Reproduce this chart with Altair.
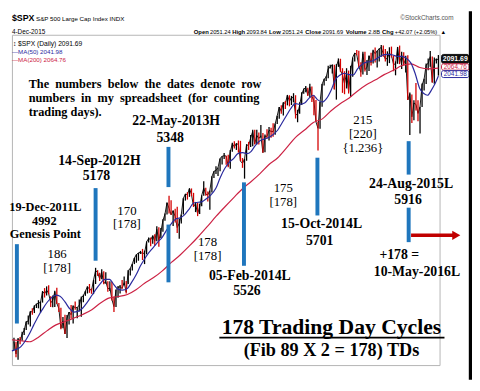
import altair as alt
import pandas as pd

SERIF = "Liberation Serif, Times New Roman, serif"
SANS = "Liberation Sans Narrow, Arial Narrow, Liberation Sans, Arial, sans-serif"

# ---------------- weekly S&P 500 prices (Fridays) ----------------
close_2011 = [1255, 1219, 1265, 1258]
low_2011 = [1231, 1209, 1202, 1248]
high_2011 = [1267, 1255, 1265, 1269]

close_2012 = [1278, 1289, 1315, 1316, 1345, 1343, 1361, 1366, 1370, 1371, 1404, 1397, 1408,
              1398, 1370, 1378, 1403, 1369, 1353, 1295, 1317, 1278, 1325, 1343, 1335, 1362,
              1355, 1357, 1363, 1386, 1391, 1405, 1418, 1411, 1407, 1438, 1466, 1460, 1441,
              1461, 1428, 1433, 1412, 1414, 1380, 1359, 1409, 1416, 1418, 1413, 1430, 1402]
low_2012 = [1258, 1275, 1290, 1306, 1300, 1335, 1340, 1355, 1354, 1341, 1371, 1386, 1392,
            1396, 1358, 1357, 1358, 1367, 1343, 1292, 1295, 1278, 1266, 1306, 1324, 1309,
            1350, 1325, 1345, 1329, 1372, 1391, 1398, 1400, 1397, 1396, 1426, 1450, 1435,
            1440, 1425, 1427, 1403, 1405, 1377, 1343, 1358, 1385, 1398, 1412, 1422, 1398]
high_2012 = [1285, 1296, 1315, 1333, 1345, 1354, 1363, 1368, 1378, 1374, 1405, 1414, 1419,
             1422, 1390, 1392, 1406, 1415, 1370, 1356, 1328, 1335, 1334, 1343, 1364, 1362,
             1374, 1357, 1380, 1389, 1394, 1405, 1419, 1426, 1413, 1438, 1474, 1467, 1459,
             1470, 1464, 1461, 1434, 1434, 1433, 1389, 1409, 1420, 1423, 1438, 1448, 1435]

close_2013 = [1466, 1472, 1486, 1503, 1513, 1518, 1520, 1516, 1518, 1551, 1561, 1557, 1569,
              1553, 1588, 1555, 1582, 1614, 1633, 1667, 1650, 1631, 1643, 1626, 1593, 1606,
              1632, 1680, 1692, 1691, 1709, 1691, 1655, 1664, 1633, 1655, 1688, 1710, 1692,
              1690, 1703, 1744, 1760, 1762, 1771, 1798, 1804, 1806, 1805, 1775, 1818, 1841]
low_2013 = [1426, 1451, 1466, 1485, 1489, 1495, 1515, 1497, 1485, 1514, 1549, 1538, 1545,
            1539, 1553, 1536, 1562, 1581, 1613, 1632, 1635, 1631, 1598, 1608, 1577, 1560,
            1605, 1632, 1673, 1676, 1684, 1686, 1654, 1639, 1627, 1633, 1656, 1687, 1687,
            1670, 1646, 1697, 1740, 1752, 1746, 1760, 1780, 1796, 1779, 1772, 1767, 1818]
high_2013 = [1467, 1473, 1486, 1503, 1514, 1518, 1524, 1530, 1525, 1552, 1564, 1564, 1570,
             1573, 1597, 1594, 1592, 1618, 1635, 1667, 1687, 1674, 1644, 1649, 1655, 1620,
             1632, 1680, 1693, 1698, 1709, 1709, 1696, 1669, 1666, 1664, 1689, 1730, 1711,
             1700, 1703, 1745, 1760, 1775, 1771, 1798, 1804, 1814, 1806, 1809, 1823, 1844]

close_2014 = [1832, 1842, 1839, 1790, 1783, 1797, 1838, 1836, 1859, 1878, 1841, 1866, 1857,
              1865, 1815, 1864, 1863, 1881, 1878, 1877, 1900, 1924, 1950, 1937, 1963, 1961,
              1985, 1967, 1978, 1978, 1925, 1931, 1955, 1988, 2003, 2008, 1985, 2010, 1982,
              1968, 1906, 1887, 1965, 2018, 2032, 2039, 2064, 2068, 2075, 2003, 2071, 2089]
low_2014 = [1827, 1823, 1815, 1790, 1770, 1738, 1791, 1823, 1832, 1834, 1839, 1839, 1839,
            1859, 1815, 1816, 1857, 1851, 1859, 1862, 1868, 1900, 1915, 1930, 1925, 1944,
            1955, 1952, 1956, 1965, 1916, 1905, 1930, 1956, 1989, 1994, 1983, 1978, 1965,
            1926, 1906, 1821, 1886, 1951, 2014, 2027, 2035, 2064, 2049, 2002, 1972, 2069]
high_2014 = [1849, 1843, 1851, 1850, 1799, 1797, 1840, 1847, 1867, 1883, 1883, 1883, 1875,
             1897, 1873, 1869, 1884, 1891, 1889, 1902, 1901, 1924, 1950, 1955, 1964, 1968,
             1986, 1985, 1983, 1991, 1985, 1942, 1964, 1994, 2005, 2012, 2007, 2019, 2011,
             1985, 1971, 1906, 1965, 2018, 2034, 2041, 2072, 2075, 2076, 2075, 2077, 2094]

close_2015 = [2058, 2045, 2019, 2051, 1995, 2055, 2097, 2110, 2105, 2071, 2053, 2108, 2061,
              2067, 2102, 2081, 2117, 2108, 2116, 2123, 2126, 2107, 2092, 2094, 2110, 2102,
              2077, 2077, 2127, 2080, 2104, 2078, 2092, 1971, 1989, 1921, 1962, 1958, 1931,
              1951, 2015, 2033, 2075, 2079, 2099, 2023, 2089, 2090, 2092]
low_2015 = [2054, 1992, 1988, 2005, 1990, 1980, 2040, 2085, 2103, 2067, 2040, 2046, 2055,
            2045, 2057, 2073, 2079, 2082, 2067, 2085, 2099, 2099, 2085, 2072, 2080, 2097,
            2056, 2044, 2078, 2077, 2063, 2073, 2052, 1971, 1867, 1903, 1911, 1940, 1908,
            1872, 1950, 1999, 2018, 2059, 2069, 2023, 2019, 2079, 2043]
high_2015 = [2093, 2065, 2056, 2065, 2058, 2072, 2097, 2110, 2119, 2117, 2083, 2114, 2114,
             2089, 2102, 2111, 2120, 2126, 2117, 2123, 2134, 2132, 2122, 2115, 2127, 2129,
             2102, 2085, 2128, 2132, 2114, 2112, 2102, 2103, 1993, 1987, 1970, 2021, 1970,
             1951, 2020, 2034, 2079, 2094, 2116, 2100, 2097, 2094, 2104]

closes = close_2011 + close_2012 + close_2013 + close_2014 + close_2015
lows = low_2011 + low_2012 + low_2013 + low_2014 + low_2015
highs = high_2011 + high_2012 + high_2013 + high_2014 + high_2015
week_dates = pd.date_range("2011-12-09", "2015-12-04", freq="W-FRI")
assert len(closes) == len(lows) == len(highs) == len(week_dates)

# ---------------- moving averages ----------------
ma200_dates = ["2011-12-02", "2012-01-02", "2012-02-01", "2012-03-01", "2012-04-01", "2012-05-01",
               "2012-06-01", "2012-07-01", "2012-08-01", "2012-09-01", "2012-10-01", "2012-11-01",
               "2012-12-01", "2013-01-01", "2013-02-01", "2013-03-01", "2013-04-01", "2013-05-01",
               "2013-06-01", "2013-07-01", "2013-08-01", "2013-09-01", "2013-10-01", "2013-11-01",
               "2013-12-01", "2014-01-01", "2014-02-01", "2014-03-01", "2014-04-01", "2014-05-01",
               "2014-06-01", "2014-07-01", "2014-08-01", "2014-09-01", "2014-10-01", "2014-11-01",
               "2014-12-01", "2015-01-01", "2015-02-01", "2015-03-01", "2015-04-01", "2015-05-01",
               "2015-06-01", "2015-07-01", "2015-08-01", "2015-09-01", "2015-10-01", "2015-11-01",
               "2015-12-04"]
ma200_vals = [1261, 1258, 1255, 1268, 1288, 1305, 1315, 1325, 1336, 1350, 1370, 1385,
              1389, 1395, 1410, 1428, 1445, 1465, 1490, 1512, 1538, 1566, 1595, 1626,
              1654, 1682, 1709, 1729, 1753, 1779, 1800, 1829, 1860, 1882, 1904, 1915,
              1939, 1960, 1977, 1997, 2016, 2030, 2046, 2058, 2073, 2078, 2067, 2063,
              2065]

ma50_dates = ["2011-12-02", "2011-12-15", "2012-01-01", "2012-01-15", "2012-02-01", "2012-02-15",
              "2012-03-01", "2012-03-15", "2012-04-01", "2012-04-15", "2012-05-01", "2012-05-15",
              "2012-06-01", "2012-06-15", "2012-07-01", "2012-07-15", "2012-08-01", "2012-08-15",
              "2012-09-01", "2012-09-15", "2012-10-01", "2012-10-15", "2012-11-01", "2012-11-15",
              "2012-12-01", "2012-12-15", "2013-01-01", "2013-01-15", "2013-02-01", "2013-02-15",
              "2013-03-01", "2013-03-15", "2013-04-01", "2013-04-15", "2013-05-01", "2013-05-15",
              "2013-06-01", "2013-06-15", "2013-07-01", "2013-07-15", "2013-08-01", "2013-08-15",
              "2013-09-01", "2013-09-15", "2013-10-01", "2013-10-15", "2013-11-01", "2013-11-15",
              "2013-12-01", "2013-12-15", "2014-01-01", "2014-01-15", "2014-02-01", "2014-02-15",
              "2014-03-01", "2014-03-15", "2014-04-01", "2014-04-15", "2014-05-01", "2014-05-15",
              "2014-06-01", "2014-06-15", "2014-07-01", "2014-07-15", "2014-08-01", "2014-08-15",
              "2014-09-01", "2014-09-15", "2014-10-01", "2014-10-15", "2014-11-01", "2014-11-15",
              "2014-12-01", "2014-12-15", "2015-01-01", "2015-01-15", "2015-02-01", "2015-02-15",
              "2015-03-01", "2015-03-15", "2015-04-01", "2015-04-15", "2015-05-01", "2015-05-15",
              "2015-06-01", "2015-06-15", "2015-07-01", "2015-07-15", "2015-08-01", "2015-08-15",
              "2015-09-01", "2015-09-15", "2015-10-01", "2015-10-15", "2015-10-28", "2015-11-10",
              "2015-11-20", "2015-12-04"]
ma50_vals = [1228, 1232, 1240, 1255, 1280, 1305, 1330, 1350, 1372, 1385, 1393, 1390,
             1373, 1355, 1343, 1345, 1355, 1370, 1392, 1410, 1428, 1440, 1440, 1425,
             1410, 1408, 1413, 1430, 1455, 1480, 1500, 1518, 1535, 1550, 1565, 1585,
             1605, 1618, 1622, 1630, 1648, 1665, 1668, 1670, 1680, 1690, 1710, 1740,
             1768, 1785, 1798, 1812, 1815, 1812, 1818, 1835, 1850, 1855, 1860, 1868,
             1882, 1902, 1925, 1945, 1960, 1958, 1962, 1975, 1985, 1972, 1965, 1975,
             2000, 2030, 2045, 2050, 2046, 2045, 2062, 2075, 2083, 2085, 2090, 2098,
             2105, 2106, 2104, 2100, 2100, 2095, 2080, 2050, 2005, 1990, 1985, 2000,
             2015, 2042]

# ---------------- cycle markers (blue bars) ----------------
bar_dates = ["2011-12-19", "2012-09-14", "2013-05-22", "2013-05-22", "2014-02-05",
             "2014-10-15", "2015-08-24", "2015-08-24"]
bar_top = [1544, 1710, 1832, 1602, 1727, 1800, 1849, 1652]
bar_bottom = [1309, 1495, 1713, 1431, 1480, 1629, 1750, 1550]

# ---------------- frames ----------------
prev = [closes[0]] + closes[:-1]
price_df = pd.DataFrame({
    "date": week_dates, "low": lows, "high": highs, "close": closes,
    "col": ["#000000" if c >= p else "#d40000" for c, p in zip(closes, prev)],
})
ma200_df = pd.DataFrame({"date": pd.to_datetime(ma200_dates), "v": ma200_vals})
ma50_df = pd.DataFrame({"date": pd.to_datetime(ma50_dates), "v": ma50_vals})
bars_df = pd.DataFrame({"date": pd.to_datetime(bar_dates), "top": bar_top, "bottom": bar_bottom})

X_SCALE = alt.Scale(domain=[alt.DateTime(year=2011, month=12, date=2),
                            alt.DateTime(year=2015, month=12, date=8)])
Y_SCALE = alt.Scale(domain=[1186, 2164], nice=False, zero=False)

month_ticks = [alt.DateTime(year=y, month=m, date=1) for y in range(2012, 2016) for m in range(1, 13)]

x_axis = alt.Axis(
    values=month_ticks, title=None, grid=True, gridColor="#e2e2e2", domain=False, ticks=False,
    labelExpr="month(datum.value) == 0 ? timeFormat(datum.value, '%y') : substring(timeFormat(datum.value, '%b'), 0, 1)",
    labelFontWeight={"condition": {"test": "month(datum.value) == 0", "value": "bold"}, "value": "normal"},
    labelFontSize={"condition": {"test": "month(datum.value) == 0", "value": 8.5}, "value": 6.5},
    labelColor="#222", labelFont=SANS, labelPadding=5, labelAngle=0, labelOverlap=False, labelFlush=False,
)
y_axis = alt.Axis(
    orient="right", values=list(range(1200, 2151, 50)), format="d", title=None, grid=True,
    gridColor="#e2e2e2", domain=False, ticks=False, labelPadding=6, labelFontSize=6.5,
    labelColor="#333", labelFont=SANS,
    labelExpr="datum.value > 2000 ? '' : datum.label",
)

price_line = alt.Chart(price_df).mark_line(color="#000000", strokeWidth=0.9).encode(
    x=alt.X("date:T", scale=X_SCALE, axis=x_axis),
    y=alt.Y("close:Q", scale=Y_SCALE, axis=y_axis),
)
price_rng = alt.Chart(price_df).mark_rule(strokeWidth=1.3).encode(
    x=alt.X("date:T", axis=None), y=alt.Y("low:Q", axis=None), y2="high:Q",
    color=alt.Color("col:N", scale=None),
)
ma200 = alt.Chart(ma200_df).mark_line(color="#cc2244", strokeWidth=1.2, interpolate="monotone").encode(
    x=alt.X("date:T", axis=None), y=alt.Y("v:Q", axis=None))
ma50 = alt.Chart(ma50_df).mark_line(color="#2a2a9e", strokeWidth=1.2, interpolate="monotone").encode(
    x=alt.X("date:T", axis=None), y=alt.Y("v:Q", axis=None))
bars = alt.Chart(bars_df).mark_rule(color="#1f76bd", strokeWidth=4, strokeCap="butt").encode(
    x=alt.X("date:T", axis=None), y=alt.Y("top:Q", axis=None), y2="bottom:Q")

dummy = pd.DataFrame({"a": [0]})
OX, OY = 12, 32  # plot origin in page pixels


def txt(s, X, Y, size, weight="bold", color="black", font=SERIF, align="center"):
    return alt.Chart(dummy).mark_text(
        text=s, fontSize=size, fontWeight=weight, color=color, font=font,
        align=align, baseline="middle",
    ).encode(x=alt.value(X - OX), y=alt.value(Y - OY))


def rect(x1, y1, x2, y2, fill, stroke):
    return alt.Chart(dummy).mark_rect(fill=fill, stroke=stroke, strokeWidth=1, cornerRadius=2).encode(
        x=alt.value(x1 - OX), x2=alt.value(x2 - OX), y=alt.value(y1 - OY), y2=alt.value(y2 - OY))


def hline(x1, x2, y, color, w):
    return alt.Chart(dummy).mark_rule(color=color, strokeWidth=w).encode(
        x=alt.value(x1 - OX), x2=alt.value(x2 - OX), y=alt.value(y - OY))


def vline(x, y1, y2, color, w):
    return alt.Chart(dummy).mark_rule(color=color, strokeWidth=w).encode(
        x=alt.value(x - OX), y=alt.value(y1 - OY), y2=alt.value(y2 - OY))


NB = "\u00a0 "
para = [
    ("The" + NB + "numbers" + NB + "below" + NB + "the" + NB + "dates" + NB + "denote" + NB + "row", 82),
    ("numbers" + NB + "in" + NB + "my" + NB + "spreadsheet" + NB + "(for" + NB + "counting", 96.5),
    ("trading days).", 111),
]
big_labels = [
    ("22-May-2013H", 179, 120), ("5348", 173, 137),
    ("14-Sep-2012H", 101, 160), ("5178", 98, 176),
    ("24-Aug-2015L", 418, 184), ("5916", 415, 200),
    ("15-Oct-2014L", 327, 225), ("5701", 325, 242),
    ("05-Feb-2014L", 254, 277), ("5526", 251, 293),
    ("+178 =", 406, 256), ("10-May-2016L", 424, 273),
]
genesis = [("19-Dec-2011L", 46, 207), ("4992", 45, 221), ("Genesis Point", 46, 235)]
counts = [
    ("186", 58, 255), ("[178]", 58, 269),
    ("170", 129, 211), ("[178]", 129, 225),
    ("178", 211, 243), ("[178]", 211, 257),
    ("175", 288, 188), ("[178]", 288, 202),
    ("215", 369, 119), ("[220]", 369, 133.5), ("{1.236}", 369, 147.5),
]
header_line = [
    ("Open", 197, "bold"), ("2051.24", 213.5, "normal"), ("High", 236, "bold"), ("2093.84", 250.5, "normal"),
    ("Low", 273.5, "bold"), ("2051.24", 287, "normal"), ("Close", 310.5, "bold"), ("2091.69", 328, "normal"),
    ("Volume", 351.5, "bold"), ("2.8B", 374.5, "normal"), ("Chg", 388.5, "bold"),
    ("+42.07 (+2.05%)", 401.5, "normal"), ("\u25b2", 448, "normal"),
]

layers = [price_line, price_rng, ma200, ma50, bars]

# header
layers.append(txt("$SPX", 12, 15, 9, font=SANS, align="left"))
layers.append(txt("S&P 500 Large Cap Index INDX", 36.5, 15.5, 6.3, weight="normal", font=SANS, align="left"))
layers.append(txt("4-Dec-2015", 12, 29, 6.5, weight="normal", font=SANS, align="left"))
layers.append(txt("\u00a9StockCharts.com", 407, 15, 6.5, weight="normal", color="#555", font=SANS, align="left"))
for s, X, w in header_line:
    layers.append(txt(s, X, 29, 6 if w == "bold" else 5.8, weight=w, font=SANS, align="left"))

# legend
layers.append(txt("\u2195 $SPX (Daily) 2091.69", 13, 41, 6.8, weight="normal", font=SANS, align="left"))
layers.append(txt("\u2014MA(50) 2041.98", 12, 49.5, 6.3, weight="normal", color="#2a2a9e", font=SANS, align="left"))
layers.append(txt("\u2014MA(200) 2064.76", 12, 58, 6.3, weight="normal", color="#cc2244", font=SANS, align="left"))

# right value boxes
layers.append(rect(449, 52, 477, 61, "#111111", "#111111"))
layers.append(txt("2091.69", 463, 56.5, 7, color="white", font=SANS))
layers.append(rect(449, 61.5, 477, 68, "white", "#cc2244"))
layers.append(txt("2064.76", 463, 64.8, 6.5, weight="normal", color="#cc2244", font=SANS))
layers.append(rect(449, 68.5, 477, 75.5, "white", "#2a2a9e"))
layers.append(txt("2041.98", 463, 72, 6.5, weight="normal", color="#2a2a9e", font=SANS))

# annotations
for s, Y in para:
    layers.append(txt(s, 29, Y, 12.5, align="left"))
for s, X, Y in big_labels:
    layers.append(txt(s, X, Y, 14))
for s, X, Y in genesis:
    layers.append(txt(s, X, Y, 12.5))
for s, X, Y in counts:
    layers.append(txt(s, X, Y, 13, weight="normal"))

layers.append(txt("178 Trading Day Cycles", 337, 329, 22))
layers.append(hline(223, 452, 340, "black", 1.8))
layers.append(txt("(Fib 89 X 2 = 178) TDs", 337, 353, 18.5))

# red arrow
layers.append(hline(418, 461, 236, "#c00000", 3.5))
layers.append(alt.Chart(dummy).mark_point(shape="triangle-right", filled=True, color="#c00000", size=90, opacity=1)
              .encode(x=alt.value(464 - OX), y=alt.value(236 - OY)))

# outer right border
layers.append(vline(478.5, 8, 383, "black", 3.5))

chart = alt.layer(*layers).properties(
    width=435, height=336,
    padding={"left": 4, "top": 24, "right": 33, "bottom": 15},
    autosize=alt.AutoSizeParams(type="none"),
    background="white",
).configure_view(stroke="#b5b5b5", strokeWidth=1)

chart.save("out.html", embed_options={"renderer": "svg", "actions": False})
